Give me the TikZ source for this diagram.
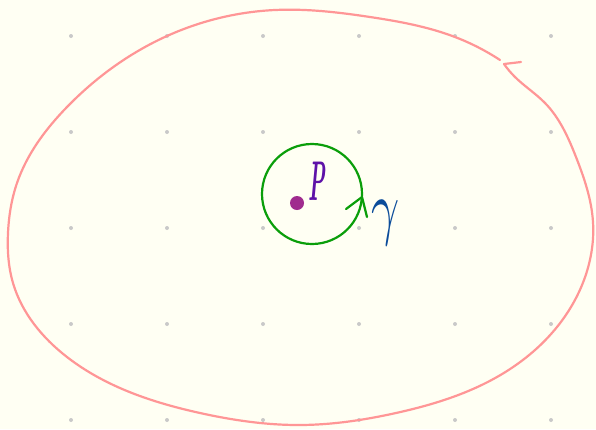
\documentclass[tikz,border=0pt]{standalone}
\usepackage{graphicx}
\usetikzlibrary{calc,hobby}
\definecolor{bgc}{HTML}{FFFFF3}
\definecolor{gridc}{HTML}{C9C9C9}
\definecolor{pinkc}{HTML}{FF9696}
\definecolor{greenc}{HTML}{0A9E0A}
\definecolor{bluec}{HTML}{0B4C9A}
\definecolor{purplec}{HTML}{5E12A8}
\definecolor{dotc}{HTML}{A02C8E}
\tikzset{
  griddot/.style={fill=gridc, draw=none, circle, inner sep=0pt, minimum size=4pt},
  loopline/.style={draw=pinkc, line width=2.2pt, line cap=round, line join=round},
  circline/.style={draw=greenc, line width=2.2pt, line cap=round, line join=round},
}
\begin{document}
\begin{tikzpicture}[x=1pt, y=-1pt]
\fill[bgc] (0,0) rectangle (596,429);
\useasboundingbox (0,0) rectangle (596,429);
% grid dots
\foreach \gx in {71,167,263,359,455,551}
  \foreach \gy in {36,132,228,324,420}
    \node[griddot] at (\gx,\gy) {};
% big pink loop
\coordinate (hs) at (521,62);
\coordinate (ht) at (504,64);
\coordinate (he) at (500,60);
\draw[loopline] (hs) -- (ht);
\draw[loopline] (ht) to[curve through={
 (515,77) (545,103) (576,157)
 (593,222) (584,280) (557,327) (497,377) (396,413) (300,425) (200,413)
 (67,357) (13,283) (8,233) (17,183) (67,107)
 (167,36) (275,10) (370,17) (455,37)}] (he);
% green circle
\node[circle, circline, minimum size=100pt, inner sep=0pt] (circ) at (312,194) {};
\coordinate (tip) at (362,197);
\coordinate (armL) at (346,209);
\coordinate (armR) at (367,217);
\draw[circline] (armL) -- (tip) -- (armR);
% point p
\node[circle, fill=dotc, inner sep=0pt, minimum size=14pt] (pt) at (297,203) {};
\node[text=purplec, inner sep=0pt] (plabel) at (317,181) {\scalebox{2.1}[5.6]{\bfseries\itshape P}};
% gamma
\node[text=bluec, inner sep=0pt] (glabel) at (386,223) {\scalebox{4.9}[7.2]{$\gamma$}};
\end{tikzpicture}
\end{document}
